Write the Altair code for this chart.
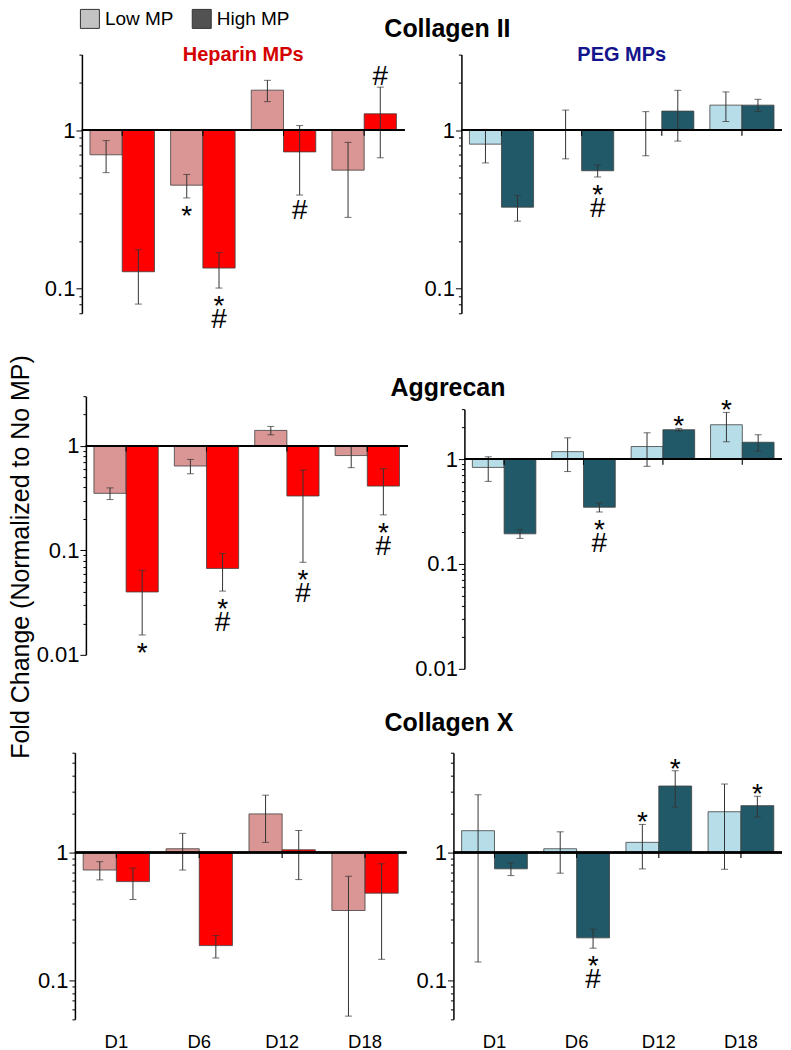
import altair as alt
import pandas as pd

days = ["D1", "D6", "D12", "D18"]
levels = ["Low MP", "High MP"]

# ---- Collagen II ----
col2_hep_low = [0.70, 0.45, 1.79, 0.56]
col2_hep_low_sd = [0.16, 0.076, 0.275, 0.278]
col2_hep_high = [0.128, 0.135, 0.73, 1.27]
col2_hep_high_sd = [0.048, 0.034, 0.34, 0.60]
col2_peg_low = [0.817, 1.0, 1.0, 1.44]
col2_peg_low_sd = [0.195, 0.34, 0.31, 0.305]
col2_peg_high = [0.327, 0.555, 1.32, 1.44]
col2_peg_high_sd = [0.06, 0.048, 0.466, 0.127]
# ---- Aggrecan ----
agg_hep_low = [0.352, 0.643, 1.41, 0.81]
agg_hep_low_sd = [0.045, 0.101, 0.13, 0.19]
agg_hep_high = [0.040, 0.0672, 0.332, 0.413]
agg_hep_high_sd = [0.0245, 0.0264, 0.255, 0.194]
agg_peg_low = [0.834, 1.18, 1.32, 2.13]
agg_peg_low_sd = [0.22, 0.418, 0.465, 0.665]
agg_peg_high = [0.194, 0.348, 1.91, 1.45]
agg_peg_high_sd = [0.0185, 0.0345, 0.055, 0.26]
# ---- Collagen X ----
colx_hep_low = [0.73, 1.07, 2.0, 0.353]
colx_hep_low_sd = [0.118, 0.34, 0.80, 0.30]
colx_hep_high = [0.593, 0.188, 1.05, 0.482]
colx_hep_high_sd = [0.163, 0.0375, 0.435, 0.335]
colx_peg_low = [1.48, 1.07, 1.2, 2.08]
colx_peg_low_sd = [1.34, 0.38, 0.455, 1.34]
colx_peg_high = [0.746, 0.216, 3.3, 2.32]
colx_peg_high_sd = [0.085, 0.0365, 1.04, 0.425]

# ---- significance marks (* and #) ----
col2_hep_low_sig = ["", "*", "", ""]
col2_hep_high_sig = ["", "*#", "#", "#"]
col2_peg_low_sig = ["", "", "", ""]
col2_peg_high_sig = ["", "*#", "", ""]
agg_hep_low_sig = ["", "", "", ""]
agg_hep_high_sig = ["*", "*#", "*#", "*#"]
agg_peg_low_sig = ["", "", "", "*"]
agg_peg_high_sig = ["", "*#", "*", ""]
colx_hep_low_sig = ["", "", "", ""]
colx_hep_high_sig = ["", "", "", ""]
colx_peg_low_sig = ["", "", "*", ""]
colx_peg_high_sig = ["", "*#", "*", "*"]

Y_TITLE = "Fold Change (Normalized to No MP)"
ROW_TITLES = ["Collagen II", "Aggrecan", "Collagen X"]
SUB_TITLES = ["Heparin MPs", "PEG MPs"]

HEP_COLORS = ["#d99694", "#ff0000"]
PEG_COLORS = ["#b7dde8", "#215968"]
LEGEND_COLORS = ["#c3c3c3", "#525252"]
FONT = "Liberation Sans"


def log_ticks(lo, hi):
    vals = []
    for e in range(-3, 2):
        for m in range(1, 10):
            v = round(m * 10 ** e, 8)
            if lo - 1e-9 <= v <= hi + 1e-9:
                vals.append(v)
    return vals


def make_df(lowv, lowsd, highv, highsd, lowsig, highsig, colors):
    rows = []
    for mp, vals, sds, sigs, col in [
        (levels[0], lowv, lowsd, lowsig, colors[0]),
        (levels[1], highv, highsd, highsig, colors[1]),
    ]:
        for d, v, s, g in zip(days, vals, sds, sigs):
            rows.append(dict(day=d, mp=mp, value=v, lo=v - s, hi=v + s,
                             sig=g, fill=col))
    return pd.DataFrame(rows)


def spacer(w, h, title=None):
    ch = alt.Chart(pd.DataFrame({"a": [0]})).mark_point(opacity=0, size=0).encode(
        x=alt.value(0), y=alt.value(0)).properties(width=w, height=h)
    if title is not None:
        ch = ch.properties(title=title)
    return ch


def legend_spacer(w, h, lx, ly):
    pts = alt.Chart(pd.DataFrame({"mp": levels})).mark_point(
        opacity=0, size=0, filled=True, shape="square").encode(
        x=alt.value(0), y=alt.value(0),
        color=alt.Color("mp:N", sort=levels,
                        scale=alt.Scale(domain=levels, range=LEGEND_COLORS),
                        legend=alt.Legend(
                            title=None, orient="none", legendX=lx, legendY=ly,
                            direction="horizontal", symbolType="square",
                            symbolSize=361, symbolStrokeColor="#333333",
                            symbolStrokeWidth=1, symbolOpacity=1,
                            labelFontSize=19, labelFont=FONT, labelColor="black",
                            columnPadding=16, labelOffset=5, padding=0)))
    return pts.properties(width=w, height=h)


def title_holder(w, h):
    """Invisible chart whose axis titles carry the shared y title and row titles."""
    df = pd.DataFrame({"a": [0]})
    hidden = dict(domain=False, ticks=False, labels=False, grid=False,
                  titleFont=FONT, titleColor="black")
    row_kw = dict(titleFontSize=25, titleFontWeight="bold", titleAngle=0,
                  titleAlign="center", titleBaseline="alphabetic")
    top = alt.Chart(df).mark_point(opacity=0, size=0).encode(
        x=alt.X("a:Q", axis=alt.Axis(orient="top", title=ROW_TITLES[1],
                                     titleX=440, titleY=341, **row_kw, **hidden)),
        y=alt.Y("a:Q", axis=alt.Axis(orient="left", title=Y_TITLE,
                                     titleX=12.5, titleY=502.5, titleAngle=270,
                                     titleAlign="center", titleBaseline="middle",
                                     titleFontSize=25, titleFontWeight="normal",
                                     **hidden)),
    )
    bottom = alt.Chart(df).mark_point(opacity=0, size=0).encode(
        x=alt.X("a:Q", axis=alt.Axis(orient="bottom", title=ROW_TITLES[2],
                                     titleX=441, titleY=667, **row_kw, **hidden)),
        y=alt.Y("a:Q", axis=None),
    )
    return alt.layer(top, bottom).resolve_scale(x="independent", y="independent").resolve_axis(
        x="independent", y="independent").properties(width=w, height=h)


MAJOR = "datum.value == 1 || datum.value == 0.1 || datum.value == 0.01"


def panel(df, domain, width, height, show_x=False, title=None):
    yaxis = alt.Axis(
        values=log_ticks(domain[0], domain[1]),
        labelExpr="datum.value == 1 ? '1' : datum.value == 0.1 ? '0.1' : datum.value == 0.01 ? '0.01' : ''",
        tickSize={"condition": {"test": MAJOR, "value": 6}, "value": 3},
        labelFontSize={"condition": {"test": MAJOR, "value": 22}, "value": 0},
        labelFont=FONT, labelColor="black",
        labelPadding=1, labelOverlap=False, labelFlush=False,
        domainColor="black", domainWidth=1.5, tickColor="black", tickWidth=1,
        grid=False, title=None,
    )
    yscale = alt.Scale(type="log", domain=domain, nice=False, clamp=True)
    if show_x:
        xaxis = alt.Axis(domain=False, ticks=False, labelFontSize=18.5,
                         labelFont=FONT, labelColor="black", labelPadding=13,
                         labelAngle=0, title=None)
    else:
        xaxis = None
    X = alt.X("day:N", sort=days,
              scale=alt.Scale(domain=days, paddingInner=0.2, paddingOuter=0.1),
              axis=xaxis, title=None)
    XO = alt.XOffset("mp:N", sort=levels,
                     scale=alt.Scale(domain=levels, paddingInner=0, paddingOuter=0))
    base = alt.Chart(df)

    bars = base.mark_bar(stroke="#404040", strokeWidth=0.8).encode(
        x=X, xOffset=XO,
        y=alt.Y("value:Q", scale=yscale, axis=yaxis),
        y2=alt.datum(1),
        fill=alt.Fill("fill:N", scale=None),
    )
    err = base.mark_rule(color="#333333", strokeWidth=1).encode(
        x=X, xOffset=XO, y="lo:Q", y2="hi:Q")
    cap_lo = base.mark_tick(color="#333333", thickness=1, size=7,
                            orient="horizontal").encode(x=X, xOffset=XO, y="lo:Q")
    cap_hi = base.mark_tick(color="#333333", thickness=1, size=7,
                            orient="horizontal").encode(x=X, xOffset=XO, y="hi:Q")
    baseline = base.mark_rule(color="black", strokeWidth=1.5).encode(y=alt.datum(1))
    xticks = base.mark_tick(color="black", thickness=1, size=5, orient="vertical",
                            yOffset=3).encode(x=X, y=alt.datum(1))

    tkw = dict(font=FONT, fontSize=28, color="black", baseline="alphabetic")
    star_below = base.transform_filter(
        "indexof(datum.sig, '*') >= 0 && datum.value < 1").mark_text(
        text="*", dy=27, **tkw).encode(x=X, xOffset=XO, y="lo:Q")
    hash_below2 = base.transform_filter(
        "datum.sig == '*#' && datum.value < 1").mark_text(
        text="#", dy=40, **tkw).encode(x=X, xOffset=XO, y="lo:Q")
    hash_below1 = base.transform_filter(
        "datum.sig == '#' && datum.value < 1").mark_text(
        text="#", dy=24, **tkw).encode(x=X, xOffset=XO, y="lo:Q")
    star_above = base.transform_filter(
        "indexof(datum.sig, '*') >= 0 && datum.value >= 1").mark_text(
        text="*", dy=7, **tkw).encode(x=X, xOffset=XO, y="hi:Q")
    hash_above = base.transform_filter(
        "datum.sig == '#' && datum.value >= 1").mark_text(
        text="#", dy=-2, **tkw).encode(x=X, xOffset=XO, y="hi:Q")

    layers = [bars, err, cap_lo, cap_hi, baseline, xticks,
              star_below, hash_below2, hash_below1, star_above, hash_above]
    ch = alt.layer(*layers).properties(width=width, height=height)
    if title is not None:
        ch = ch.properties(title=title)
    return ch


def sub_title(text, color):
    return alt.TitleParams(text, color=color, fontSize=20, fontWeight="bold",
                           font=FONT, anchor="middle", frame="group",
                           offset=-27, baseline="alphabetic")


def row_title(text, offset, dx):
    return alt.TitleParams(text, color="black", fontSize=25, fontWeight="bold",
                           font=FONT, anchor="middle", frame="group", dx=dx,
                           offset=offset, baseline="alphabetic")


pA = panel(make_df(col2_hep_low, col2_hep_low_sd, col2_hep_high, col2_hep_high_sd,
                   col2_hep_low_sig, col2_hep_high_sig, HEP_COLORS),
           [0.07, 3], 323, 259, title=sub_title(SUB_TITLES[0], "#d40000"))
pB = panel(make_df(col2_peg_low, col2_peg_low_sd, col2_peg_high, col2_peg_high_sd,
                   col2_peg_low_sig, col2_peg_high_sig, PEG_COLORS),
           [0.07, 3], 321, 259, title=sub_title(SUB_TITLES[1], "#14148c"))
pC = panel(make_df(agg_hep_low, agg_hep_low_sd, agg_hep_high, agg_hep_high_sd,
                   agg_hep_low_sig, agg_hep_high_sig, HEP_COLORS),
           [0.01, 3], 322, 259)
pD = panel(make_df(agg_peg_low, agg_peg_low_sd, agg_peg_high, agg_peg_high_sd,
                   agg_peg_low_sig, agg_peg_high_sig, PEG_COLORS),
           [0.01, 3], 318, 260)
pE = panel(make_df(colx_hep_low, colx_hep_low_sd, colx_hep_high, colx_hep_high_sd,
                   colx_hep_low_sig, colx_hep_high_sig, HEP_COLORS),
           [0.05, 6], 332, 267, show_x=True)
pF = panel(make_df(colx_peg_low, colx_peg_low_sd, colx_peg_high, colx_peg_high_sd,
                   colx_peg_low_sig, colx_peg_high_sig, PEG_COLORS),
           [0.05, 6], 329, 267, show_x=True)

ind = dict(x="independent", y="independent", xOffset="independent")

row1 = alt.hconcat(
    legend_spacer(50, 10, 48, -46), pA,
    spacer(57, 10, row_title(ROW_TITLES[0], -7, 14.5)), pB,
    spacing=0, bounds="flush").resolve_scale(**ind).resolve_legend(color="independent")
colD = alt.vconcat(spacer(10, 13), pD, spacing=0, bounds="flush").resolve_scale(**ind)
row2 = alt.hconcat(
    spacer(54, 10), pC, spacer(57, 10), colD,
    spacing=0, bounds="flush").resolve_scale(**ind)
row3 = alt.hconcat(
    spacer(43, 10), pE, spacer(47, 10), pF,
    spacing=0, bounds="flush").resolve_scale(**ind)

main = alt.vconcat(
    row1, spacer(10, 61), row2, spacer(10, 72), row3,
    spacing=0,
).resolve_scale(**ind).resolve_legend(color="independent")

chart = alt.hconcat(
    title_holder(24, 10), main, spacing=0, bounds="flush",
).resolve_scale(**ind).resolve_legend(color="independent").properties(
    padding=0).configure(font=FONT).configure_view(strokeWidth=0)

chart.save("out.html", embed_options={"renderer": "svg", "actions": False})
